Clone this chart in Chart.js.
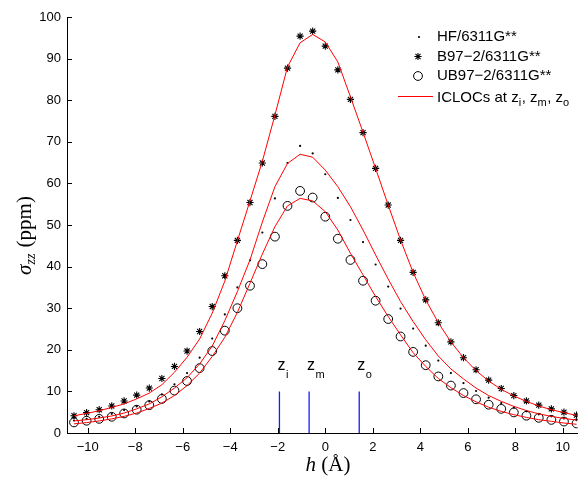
<!DOCTYPE html>
<html><head><meta charset="utf-8">
<script src="https://cdn.jsdelivr.net/npm/chart.js@4.4.1/dist/chart.umd.min.js"></script>
<style>html,body{margin:0;padding:0;background:#fff;overflow:hidden}</style>
</head><body>
<canvas id="c" width="583" height="477"></canvas>
<script>
// h in Angstrom (grid of 0.529 Å)
const hValues = [-10.58,-10.05,-9.52,-8.99,-8.47,-7.94,-7.41,-6.88,-6.35,-5.82,-5.29,-4.76,-4.23,-3.70,-3.17,-2.65,-2.12,-1.59,-1.06,-0.53,0,
                 0.53,1.06,1.59,2.12,2.65,3.17,3.70,4.23,4.76,5.29,5.82,6.35,6.88,7.41,7.94,8.47,8.99,9.52,10.05,10.58];
const hf   = [3.0,3.4,3.9,4.6,5.5,6.4,7.6,9.3,11.7,14.4,18.1,22.7,28.5,35.0,41.5,48.2,56.4,64.9,69.0,67.2,62.2,
              56.5,51.2,45.9,40.5,35.2,29.9,25.1,21.0,17.4,14.4,12.0,10.1,8.5,7.2,6.1,5.2,4.5,4.0,3.5,3.1];
const b97  = [4.15,4.9,5.6,6.5,7.7,9.1,10.8,13.1,16.0,19.7,24.4,30.4,37.8,46.3,55.4,64.9,76.1,87.7,95.4,96.6,93.0,
              87.3,80.2,72.2,63.6,54.8,46.3,38.6,32.0,26.5,21.9,18.1,15.2,12.7,10.7,9.0,7.7,6.7,5.8,5.0,4.3];
const ub97 = [2.55,2.95,3.4,3.9,4.7,5.6,6.7,8.2,10.2,12.5,15.6,19.7,24.6,30.0,35.4,40.6,47.2,54.6,58.2,56.6,52.0,
              46.7,41.6,36.6,31.8,27.4,23.2,19.5,16.3,13.6,11.4,9.6,8.1,6.8,5.8,4.95,4.15,3.65,3.15,2.75,2.3];
const iclocB97 = [4.15,4.7,5.35,6.15,7.0,8.2,9.6,11.6,14.6,18.2,22.6,28.8,36.5,46.2,55.8,65.3,76.4,88.0,93.8,95.8,94.0,
                  89.2,80.8,72.3,63.6,54.8,46.4,38.6,32.0,26.5,21.9,18.1,15.0,12.5,10.5,8.9,7.6,6.5,5.6,4.9,4.2];
const iclocHF  = [2.9,3.2,3.6,4.1,4.8,5.8,7.0,8.7,10.8,13.3,16.6,20.9,27.0,34.0,41.6,50.7,59.2,64.8,67.0,66.3,63.2,
                  59.2,54.4,48.8,42.8,37.0,31.6,26.8,22.4,18.5,15.4,13.0,10.8,9.0,7.6,6.4,5.4,4.6,4.0,3.5,3.1];
const iclocUB  = [2.2,2.5,2.9,3.4,4.0,4.8,5.9,7.2,9.0,11.4,14.4,18.4,23.0,29.0,36.0,43.0,49.6,54.6,56.4,55.8,53.2,
                  48.8,43.2,38.0,32.8,28.0,23.6,19.3,16.0,13.1,10.9,9.0,7.5,6.2,5.2,4.4,3.75,3.2,2.8,2.4,2.1];
const zPositions = [-1.93, -0.68, 1.43];
const zNames = ['i', 'm', 'o'];
const zLineRange = [0, 10];
const xTickValues = [-10,-8,-6,-4,-2,0,2,4,6,8,10];
const yTickValues = [0,10,20,30,40,50,60,70,80,90,100];
const seriesNames = ['HF/6311G**', 'B97\u22122/6311G**', 'UB97\u22122/6311G**'];

const pts = ys => hValues.map((x, i) => ({x, y: ys[i]}));
const fmt = v => v < 0 ? '\u2212' + Math.abs(v) : String(v);

const datasets = [
  {data: pts(iclocB97), showLine: true, borderColor: '#ff0000', borderWidth: 1, pointRadius: 0, tension: 0},
  {data: pts(iclocHF),  showLine: true, borderColor: '#ff0000', borderWidth: 1, pointRadius: 0, tension: 0},
  {data: pts(iclocUB),  showLine: true, borderColor: '#ff0000', borderWidth: 1, pointRadius: 0, tension: 0},
  {data: pts(hf),   showLine: false, pointStyle: 'circle', pointRadius: 1.1, backgroundColor: '#000', borderColor: '#000', borderWidth: 0},
  {data: pts(b97),  showLine: false, pointStyle: 'star', pointRadius: 3.6, borderColor: '#000', borderWidth: 1.1, backgroundColor: '#000'},
  {data: pts(ub97), showLine: false, pointStyle: 'circle', pointRadius: 4.4, borderColor: '#000', borderWidth: 1, backgroundColor: 'rgba(0,0,0,0)'}
];
zPositions.forEach(z => datasets.push({
  data: zLineRange.map(y => ({x: z, y})), showLine: true, borderColor: '#1a1aff', borderWidth: 1.3, pointRadius: 0
}));

const deco = {
  id: 'deco',
  afterDraw(chart) {
    const ctx = chart.ctx, xs = chart.scales.x, ys = chart.scales.y, a = chart.chartArea;
    ctx.save();
    // inward ticks
    ctx.strokeStyle = '#000'; ctx.lineWidth = 1;
    ctx.beginPath();
    xTickValues.forEach(v => { const px = Math.round(xs.getPixelForValue(v)) + 0.5; ctx.moveTo(px, a.bottom); ctx.lineTo(px, a.bottom - 5); });
    yTickValues.forEach(v => { const py = Math.round(ys.getPixelForValue(v)) + 0.5; ctx.moveTo(a.left, py); ctx.lineTo(a.left + 5, py); });
    ctx.stroke();

    // z labels
    ctx.fillStyle = '#000'; ctx.textBaseline = 'alphabetic'; ctx.textAlign = 'left';
    zPositions.forEach((z, i) => {
      const px = xs.getPixelForValue(z) - 2;
      ctx.font = '16px "Liberation Sans", Arial, sans-serif';
      ctx.fillText('z', px, 370);
      const w = ctx.measureText('z').width;
      ctx.font = '11px "Liberation Sans", Arial, sans-serif';
      ctx.fillText(zNames[i], px + w + 0.5, 378);
    });

    // legend
    const lx = 437, rows = [37, 56.5, 76, 96];
    ctx.font = '15px "Liberation Sans", Arial, sans-serif';
    ctx.textBaseline = 'middle';
    seriesNames.forEach((t, i) => ctx.fillText(t, lx, rows[i]));
    // markers
    ctx.beginPath(); ctx.arc(419, rows[0], 1.1, 0, Math.PI * 2); ctx.fill();
    ctx.beginPath();
    const r = 3.6, cx = 418, cy = rows[1];
    for (let k = 0; k < 4; k++) { const ang = k * Math.PI / 4; ctx.moveTo(cx - r * Math.cos(ang), cy - r * Math.sin(ang)); ctx.lineTo(cx + r * Math.cos(ang), cy + r * Math.sin(ang)); }
    ctx.lineWidth = 1.1; ctx.stroke();
    ctx.beginPath(); ctx.arc(418, rows[2], 4.4, 0, Math.PI * 2); ctx.lineWidth = 1; ctx.stroke();
    ctx.beginPath(); ctx.strokeStyle = '#ff0000'; ctx.moveTo(398, rows[3] + 0.5); ctx.lineTo(433, rows[3] + 0.5); ctx.stroke();
    // ICLOC text with subscripts
    let x = lx; ctx.textBaseline = 'alphabetic';
    const base = rows[3] + 5.5;
    const parts = [['ICLOCs at z', 0], ['i', 1], [', z', 0], ['m', 1], [', z', 0], ['o', 1]];
    parts.forEach(([t, sub]) => {
      ctx.font = sub ? '11px "Liberation Sans", Arial, sans-serif' : '15px "Liberation Sans", Arial, sans-serif';
      ctx.fillText(t, x, sub ? base + 4.5 : base);
      x += ctx.measureText(t).width + (sub ? 0.5 : 0);
    });

    // x title
    ctx.font = 'italic 21px "Liberation Serif", "Times New Roman", serif';
    const wh = ctx.measureText('h').width;
    ctx.font = '21px "Liberation Serif", "Times New Roman", serif';
    const wr = ctx.measureText(' (\u00C5)').width;
    let sx = 328 - (wh + wr) / 2;
    ctx.font = 'italic 21px "Liberation Serif", "Times New Roman", serif';
    ctx.fillText('h', sx, 471);
    ctx.font = '21px "Liberation Serif", "Times New Roman", serif';
    ctx.fillText(' (\u00C5)', sx + wh, 471);

    // y title
    ctx.translate(31, 236); ctx.rotate(-Math.PI / 2);
    ctx.font = 'italic 21px "Liberation Serif", "Times New Roman", serif';
    const ws = ctx.measureText('\u03C3').width;
    ctx.font = 'italic 14px "Liberation Serif", "Times New Roman", serif';
    const wz = ctx.measureText('zz').width;
    ctx.font = '21px "Liberation Serif", "Times New Roman", serif';
    const wp = ctx.measureText(' (ppm)').width;
    let tx = -(ws + wz + wp) / 2;
    ctx.font = 'italic 21px "Liberation Serif", "Times New Roman", serif';
    ctx.fillText('\u03C3', tx, 0); tx += ws;
    ctx.font = 'italic 14px "Liberation Serif", "Times New Roman", serif';
    ctx.fillText('zz', tx, 4); tx += wz + 1;
    ctx.font = '21px "Liberation Serif", "Times New Roman", serif';
    ctx.fillText(' (ppm)', tx, 0);
    ctx.restore();
  }
};

new Chart(document.getElementById('c'), {
  type: 'scatter',
  data: {datasets},
  options: {
    responsive: false, animation: false, devicePixelRatio: 1,
    layout: {padding: {top: 17, right: 0, bottom: 0, left: 0}},
    plugins: {legend: {display: false}, tooltip: {enabled: false}},
    scales: {
      x: {
        type: 'linear', min: -10.875, max: 10.625,
        afterBuildTicks: s => { s.ticks = xTickValues.map(v => ({value: v})); },
        afterFit: s => { s.height = 44; },
        grid: {display: false, drawTicks: false},
        border: {display: true, color: '#000', width: 1},
        ticks: {callback: fmt, color: '#000', padding: 7, maxRotation: 0, autoSkip: false,
                font: {family: '"Liberation Sans", Arial, sans-serif', size: 13}}
      },
      y: {
        type: 'linear', min: 0, max: 100,
        afterBuildTicks: s => { s.ticks = yTickValues.map(v => ({value: v})); },
        afterFit: s => { s.width = 67; },
        grid: {display: false, drawTicks: false},
        border: {display: true, color: '#000', width: 1},
        ticks: {callback: fmt, color: '#000', padding: 6, autoSkip: false,
                font: {family: '"Liberation Sans", Arial, sans-serif', size: 13}}
      }
    }
  },
  plugins: [deco]
});
</script>
</body></html>
